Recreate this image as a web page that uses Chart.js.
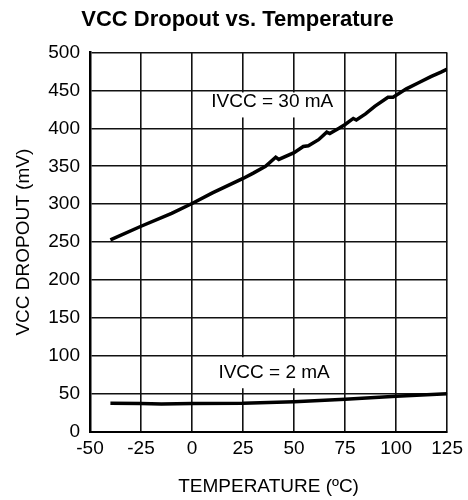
<!DOCTYPE html>
<html>
<head>
<meta charset="utf-8">
<script src="https://cdn.jsdelivr.net/npm/chart.js@4/dist/chart.umd.min.js"></script>
<style>
html,body{margin:0;padding:0;background:#fff;}
#wrap{width:468px;height:500px;}
</style>
</head>
<body>
<div id="wrap"><canvas id="c" width="468" height="500"></canvas></div>
<script>
// ---- text ----
const titleText = 'VCC Dropout vs. Temperature';
const xAxisTitle = 'TEMPERATURE (\u00BAC)';
const yAxisTitle = 'VCC DROPOUT (mV)';
const seriesNames = ['IVCC = 30 mA', 'IVCC = 2 mA'];

// ---- ticks ----
const xTickValues = [-50, -25, 0, 25, 50, 75, 100, 125];
const yTickValues = [0, 50, 100, 150, 200, 250, 300, 350, 400, 450, 500];

// ---- series: IVCC = 30 mA ----
const temp30 = [-40, -25, -10, 0, 10, 25, 30, 36, 41, 42.5, 50, 54.5, 57, 62, 66, 67.5, 72, 75, 79, 80.5, 85, 89.5, 96, 98.5, 105, 111, 117, 122, 125];
const drop30 = [253, 271, 288, 301, 315, 334, 341, 350, 362, 359, 368, 376, 377, 385, 395, 393, 400, 405, 413, 411, 419, 429, 441, 441, 452, 460, 468, 474, 478];

// ---- series: IVCC = 2 mA ----
const temp2 = [-40, -25, -15, 0, 25, 50, 75, 100, 125];
const drop2 = [38, 37.5, 37, 37.5, 38, 40, 43, 47, 50.5];

// ---- in-plot label anchors (data coordinates: temperature, mV) ----
const labelTemps = [39.3, 40.2];
const labelValues = [435.4, 77.4];

const FONT = 'Liberation Sans, Arial, Helvetica, sans-serif';

const toPoints = (xs, ys) => xs.map((x, i) => ({x: x, y: ys[i]}));

const inPlotLabels = {
  id: 'inPlotLabels',
  beforeDatasetsDraw(chart) {
    const ctx = chart.ctx;
    const xs = chart.scales.x, ys = chart.scales.y;
    const boxes = [[-9, 16], [-16, 15]];
    ctx.save();
    ctx.font = '19px ' + FONT;
    ctx.textAlign = 'center';
    ctx.textBaseline = 'middle';
    seriesNames.forEach((txt, i) => {
      const px = xs.getPixelForValue(labelTemps[i]);
      const py = ys.getPixelForValue(labelValues[i]);
      const w = ctx.measureText(txt).width;
      ctx.fillStyle = '#fff';
      ctx.fillRect(px - w / 2 - 4, py + boxes[i][0], w + 8, boxes[i][1] - boxes[i][0]);
      ctx.fillStyle = '#000';
      ctx.fillText(txt, px, py);
    });
    ctx.restore();
  }
};

new Chart(document.getElementById('c'), {
  type: 'line',
  data: {
    datasets: [
      {label: seriesNames[0], data: toPoints(temp30, drop30), borderColor: '#000', borderWidth: 3.5, pointRadius: 0, tension: 0, fill: false},
      {label: seriesNames[1], data: toPoints(temp2, drop2), borderColor: '#000', borderWidth: 3.5, pointRadius: 0, tension: 0, fill: false}
    ]
  },
  options: {
    responsive: false,
    animation: false,
    devicePixelRatio: 1,
    layout: {padding: {left: 26, right: 19, top: 0, bottom: 0}},
    plugins: {
      legend: {display: false},
      tooltip: {enabled: false},
      title: {
        display: true, text: titleText, color: '#000',
        font: {family: FONT, size: 22, weight: 'bold'},
        padding: {top: 7, bottom: 19}
      }
    },
    scales: {
      x: {
        type: 'linear', min: -50, max: 125,
        afterBuildTicks: s => { s.ticks = xTickValues.map(v => ({value: v})); },
        afterFit: s => { s.height = 68; },
        grid: {color: '#111', lineWidth: 1.6, drawTicks: false},
        border: {color: '#000', width: 2},
        ticks: {color: '#000', font: {family: FONT, size: 19}, padding: 5, maxRotation: 0, autoSkip: false},
        title: {display: true, text: xAxisTitle, color: '#000', font: {family: FONT, size: 19}, padding: {top: 0, bottom: 2}}
      },
      y: {
        type: 'linear', min: 0, max: 500,
        afterBuildTicks: s => { s.ticks = yTickValues.map(v => ({value: v})); },
        afterFit: s => { s.width = 64; },
        grid: {color: '#111', lineWidth: 1.6, drawTicks: false},
        border: {color: '#000', width: 2.5},
        ticks: {color: '#000', font: {family: FONT, size: 19}, padding: 10, autoSkip: false},
        title: {display: true, text: yAxisTitle, color: '#000', font: {family: FONT, size: 19}, padding: {top: -13.4, bottom: 0}}
      }
    }
  },
  plugins: [inPlotLabels]
});
</script>
</body>
</html>
